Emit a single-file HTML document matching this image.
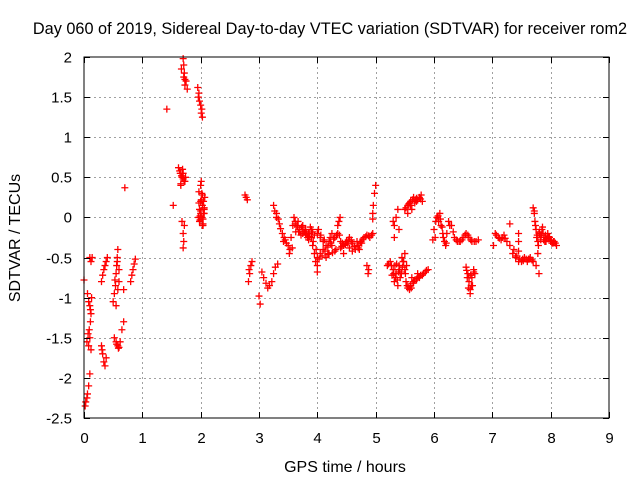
<!DOCTYPE html>
<html><head><meta charset="utf-8"><style>
body{margin:0;background:#fff;}
svg{display:block;font-family:"Liberation Sans",sans-serif;}
</style></head><body>
<svg id="chart" width="640" height="480" viewBox="0 0 640 480">
<rect width="640" height="480" fill="#fff"/>
<text x="330" y="34" font-size="16.3" text-anchor="middle">Day 060 of 2019, Sidereal Day-to-day VTEC variation (SDTVAR) for receiver rom2</text>
<g id="grid"></g>
<g id="points"></g>
<rect x="84" y="57" width="525" height="361" fill="none" stroke="#000" stroke-width="1"/>
<g id="ticks"></g>
<text x="345" y="472" font-size="16" text-anchor="middle">GPS time / hours</text>
<text transform="translate(20,238) rotate(-90)" font-size="16" text-anchor="middle">SDTVAR / TECUs</text>
</svg>
<script>
const xTicks=[0,1,2,3,4,5,6,7,8,9];
const yTicks=[2,1.5,1,0.5,0,-0.5,-1,-1.5,-2,-2.5];
const yTickLabels=["2","1.5","1","0.5","0","-0.5","-1","-1.5","-2","-2.5"];
const times=[0.02,0.03,0.05,0.06,0.08,0.1,0.0,0.05,0.07,0.08,0.1,0.12,0.06,0.08,0.1,0.12,0.11,0.13,0.1,0.12,0.14,0.09,0.11,
0.3,0.32,0.34,0.36,0.38,0.4,0.3,0.32,0.34,0.36,0.38,0.31,
0.5,0.52,0.54,0.55,0.56,0.57,0.58,0.6,0.58,0.55,0.6,0.53,0.57,
0.52,0.55,0.58,0.6,0.62,0.65,0.68,0.56,0.59,0.68,0.7,
0.8,0.82,0.84,0.86,0.88,
1.42,1.7,1.71,1.72,1.73,1.75,1.77,1.95,1.97,1.98,2.0,2.01,2.03,1.96,2.02,
1.62,1.65,1.68,1.7,1.72,1.74,1.66,1.69,1.53,1.68,1.7,1.71,1.7,1.72,
1.96,1.98,2.0,2.02,2.0,2.03,2.05,1.98,2.04,2.07,2.06,2.0,2.01,2.03,2.05,1.97,
2.76,2.78,2.8,2.82,2.84,2.86,2.88,2.83,3.0,3.02,
3.05,3.08,3.12,3.15,3.18,3.22,3.25,3.28,3.32,3.25,3.27,3.3,
3.3,3.35,3.4,3.42,3.45,3.5,3.52,3.55,3.58,3.6,3.62,3.65,3.7,3.75,3.8,3.85,3.9,3.92,3.95,3.97,4.0,4.05,4.1,4.15,4.2,4.22,4.25,4.3,4.35,4.4,4.45,4.5,4.55,4.6,4.65,4.7,4.75,4.8,4.85,4.9,4.95,
3.75,3.8,3.85,3.88,3.9,3.95,4.0,4.05,4.1,4.15,4.2,4.3,4.4,4.0,4.0,4.39,4.35,4.37,3.68,3.72,3.78,3.83,4.25,4.45,4.55,4.6,4.68,4.72,
4.85,4.87,4.88,4.95,4.96,4.98,5.0,4.95,
5.3,5.32,5.35,5.38,5.4,5.32,5.5,5.55,5.6,5.62,5.65,5.7,5.75,5.8,5.55,5.58,5.68,5.78,
5.2,5.25,5.3,5.32,5.35,5.38,5.4,5.42,5.45,5.5,5.52,5.55,5.58,5.6,5.65,5.7,5.75,5.8,5.85,5.9,5.5,5.48,5.28,5.36,5.44,5.62,5.72,
5.98,6.0,6.02,6.05,6.1,6.12,6.15,6.18,6.2,6.22,6.25,6.3,6.35,6.4,6.45,6.5,6.55,6.6,6.65,6.72,6.76,6.08,6.14,
6.55,6.58,6.6,6.62,6.65,6.68,6.7,6.62,6.57,6.66,
7.02,7.05,7.1,7.15,7.2,7.25,7.3,7.3,7.35,7.4,7.45,7.5,7.55,7.6,7.65,7.7,7.75,7.8,7.45,7.45,7.45,7.52,7.62,
7.7,7.72,7.73,7.75,7.78,7.78,7.8,7.85,7.9,7.95,8.0,8.05,8.1,7.76,7.82,7.88,7.92,7.98,8.02,
3.33,3.37,3.43,3.47,3.53,3.57,3.63,3.67,3.73,3.77,3.82,3.87,3.93,3.98,4.03,4.08,4.13,4.18,4.23,4.28,4.33,4.38,4.43,4.48,4.53,4.58,4.63,4.73,4.78,4.83,4.88,4.93,
3.62,3.66,3.7,3.74,3.86,3.92,4.02,4.06,4.12,4.18,4.26,4.32,4.42,4.48,4.52,4.58,4.64,4.7,4.76,
5.22,5.27,5.31,5.34,5.37,5.41,5.44,5.47,5.51,5.54,5.57,5.61,5.64,5.67,5.71,5.74,5.77,5.82,5.87,5.33,5.39,5.46,5.53,
5.52,5.57,5.63,5.67,5.72,5.77,5.6,5.7,
6.03,6.07,6.11,6.16,6.21,6.27,6.33,6.38,6.43,6.48,6.53,6.58,6.63,6.69,6.56,6.6,6.64,6.68,6.59,6.63,
7.07,7.12,7.17,7.22,7.37,7.42,7.47,7.53,7.58,7.63,7.68,7.72,
7.74,7.77,7.81,7.84,7.87,7.91,7.94,7.97,8.01,8.04,8.08,7.79,7.83,7.86,7.9,7.96,8.06,
1.99,2.01,2.04,2.06,1.97,2.0,2.03,1.67,1.71,1.73,1.64,1.67,1.7,1.73,1.66,2.02,2.04,1.99,2.06];
const values=[-2.35,-2.3,-2.25,-2.2,-2.1,-1.95,-0.78,-1.55,-1.45,-1.6,-1.5,-1.65,-0.95,-1.05,-1.1,-1.2,-1.3,-1.0,-0.5,-0.55,-0.5,-1.4,-1.15,
-0.8,-0.72,-0.65,-0.6,-0.55,-0.5,-1.6,-1.7,-1.8,-1.85,-1.75,-1.65,
-1.05,-0.95,-0.85,-0.7,-0.6,-0.5,-0.4,-0.8,-0.9,-1.1,-0.65,-0.78,-0.55,
-1.5,-1.55,-1.6,-1.62,-1.55,-1.4,-1.3,-1.58,-1.63,-0.9,0.37,
-0.8,-0.72,-0.65,-0.58,-0.52,
1.35,1.98,1.9,1.8,1.72,1.7,1.6,1.62,1.55,1.45,1.4,1.3,1.25,1.5,1.35,
0.62,0.55,0.5,0.55,0.45,0.5,0.4,0.6,0.15,-0.05,-0.2,-0.3,-0.38,-0.1,
0.0,0.1,0.2,0.3,0.4,0.15,0.05,-0.05,-0.08,0.25,0.1,0.05,0.45,-0.1,0.2,0.32,
0.28,0.25,0.22,-0.8,-0.7,-0.6,-0.55,-0.65,-0.98,-1.08,
-0.68,-0.75,-0.82,-0.88,-0.85,-0.8,-0.7,-0.62,-0.58,0.15,0.08,0.0,
0.05,-0.08,-0.2,-0.3,-0.28,-0.35,-0.45,-0.25,-0.1,0.0,-0.05,-0.1,-0.15,-0.2,-0.22,-0.28,-0.25,-0.35,-0.45,-0.55,-0.5,-0.45,-0.4,-0.35,-0.3,-0.25,-0.2,-0.25,-0.2,-0.3,-0.35,-0.3,-0.25,-0.32,-0.4,-0.35,-0.3,-0.25,-0.22,-0.25,-0.2,
-0.1,-0.15,-0.2,-0.12,-0.15,-0.22,-0.2,-0.25,-0.3,-0.5,-0.45,-0.42,-0.38,-0.68,-0.6,0.0,-0.1,-0.05,-0.18,-0.22,-0.18,-0.25,-0.35,-0.45,-0.38,-0.42,-0.3,-0.4,
-0.6,-0.7,-0.65,0.05,0.15,0.3,0.4,-0.02,
-0.05,-0.1,0.0,0.1,-0.15,-0.25,0.1,0.15,0.2,0.1,0.25,0.2,0.25,0.2,0.05,0.18,0.22,0.28,
-0.6,-0.55,-0.65,-0.8,-0.7,-0.85,-0.6,-0.75,-0.5,-0.65,-0.8,-0.88,-0.9,-0.85,-0.8,-0.78,-0.75,-0.72,-0.68,-0.65,-0.45,-0.55,-0.72,-0.58,-0.68,-0.75,-0.7,
-0.28,-0.15,-0.25,0.0,0.05,-0.1,-0.2,-0.3,-0.35,-0.2,-0.05,-0.1,-0.25,-0.3,-0.3,-0.25,-0.2,-0.25,-0.3,-0.3,-0.28,-0.05,-0.12,
-0.62,-0.7,-0.8,-0.9,-0.75,-0.65,-0.7,-0.95,-0.75,-0.85,
-0.35,-0.2,-0.25,-0.28,-0.22,-0.3,-0.08,-0.35,-0.45,-0.5,-0.55,-0.55,-0.5,-0.55,-0.5,-0.55,-0.6,-0.7,-0.2,-0.3,-0.42,-0.52,-0.52,
0.12,0.05,-0.05,-0.15,-0.3,-0.45,-0.2,-0.15,-0.25,-0.2,-0.3,-0.3,-0.35,-0.25,-0.22,-0.28,-0.3,-0.25,-0.32,
-0.02,-0.14,-0.25,-0.32,-0.4,-0.38,-0.18,-0.05,-0.12,-0.18,-0.2,-0.24,-0.3,-0.4,-0.52,-0.48,-0.42,-0.37,-0.32,-0.27,-0.22,-0.22,-0.32,-0.33,-0.28,-0.28,-0.36,-0.32,-0.27,-0.24,-0.23,-0.22,
-0.08,-0.12,-0.18,-0.12,-0.2,-0.18,-0.15,-0.22,-0.28,-0.46,-0.44,-0.4,-0.36,-0.34,-0.32,-0.3,-0.36,-0.38,-0.32,
-0.58,-0.6,-0.7,-0.75,-0.78,-0.65,-0.7,-0.55,-0.7,-0.85,-0.86,-0.88,-0.82,-0.78,-0.76,-0.74,-0.72,-0.7,-0.66,-0.6,-0.68,-0.62,-0.6,
0.12,0.17,0.22,0.18,0.22,0.23,0.15,0.24,
-0.05,0.02,-0.02,-0.25,-0.32,-0.1,-0.18,-0.28,-0.3,-0.28,-0.22,-0.22,-0.28,-0.3,-0.66,-0.75,-0.85,-0.68,-0.88,-0.72,
-0.22,-0.26,-0.25,-0.26,-0.4,-0.48,-0.52,-0.54,-0.52,-0.52,-0.53,0.08,
-0.1,-0.22,-0.18,-0.22,-0.2,-0.22,-0.26,-0.24,-0.28,-0.32,-0.32,-0.35,-0.28,-0.12,-0.3,-0.25,-0.3,
0.02,0.22,-0.02,0.12,0.18,0.08,0.28,1.85,1.75,1.65,0.58,0.52,0.48,0.45,0.42,0.0,-0.1,-0.03,0.05];
const NS="http://www.w3.org/2000/svg";
const X0=84,X1=609,Y0=57,Y1=418;
function xs(v){return X0+(v-0)/(9-0)*(X1-X0);}
function ys(v){return Y1-(v+2.5)/(2-(-2.5))*(Y1-Y0);}
const grid=document.getElementById('grid'),ticks=document.getElementById('ticks'),pts=document.getElementById('points');
function line(p,x1,y1,x2,y2,st,dash){const l=document.createElementNS(NS,'line');l.setAttribute('x1',x1);l.setAttribute('y1',y1);l.setAttribute('x2',x2);l.setAttribute('y2',y2);l.setAttribute('stroke',st);if(dash)l.setAttribute('stroke-dasharray',dash);p.appendChild(l);return l;}
xTicks.forEach(t=>{const x=Math.round(xs(t))+0.5;
 if(t>0&&t<9){const g=line(grid,x,Y0,x,Y1,'#a0a0a0','2,3');}
 const a=line(ticks,x,Y1,x,Y1-6,'#000');
 const b=line(ticks,x,Y0,x,Y0+6,'#000');
 const tx=document.createElementNS(NS,'text');tx.setAttribute('x',x);tx.setAttribute('y',443);tx.setAttribute('font-size','15');tx.setAttribute('text-anchor','middle');tx.textContent=String(t);
 
 
 ticks.appendChild(tx);});
yTicks.forEach((t,i)=>{const y=Math.round(ys(t))+0.5;
 if(t>-2.5&&t<2){const g=line(grid,X0,y,X1,y,'#a0a0a0','2,3');}
 const a=line(ticks,X0,y,X0+6,y,'#000');
 const b=line(ticks,X1,y,X1-6,y,'#000');
 const tx=document.createElementNS(NS,'text');tx.setAttribute('x',72);tx.setAttribute('y',y+5);tx.setAttribute('font-size','15');tx.setAttribute('text-anchor','end');tx.textContent=yTickLabels[i];
 
 
 ticks.appendChild(tx);});
times.forEach((t,i)=>{const x=xs(t),y=ys(values[i]);
 const p=document.createElementNS(NS,'path');
 p.setAttribute('d',`M${x-3.5},${y}H${x+3.5}M${x},${y-3.5}V${y+3.5}`);
 p.setAttribute('stroke','#ff0000');p.setAttribute('stroke-width','1.3');p.setAttribute('fill','none');
 
 
 pts.appendChild(p);});
</script>
</body></html>
